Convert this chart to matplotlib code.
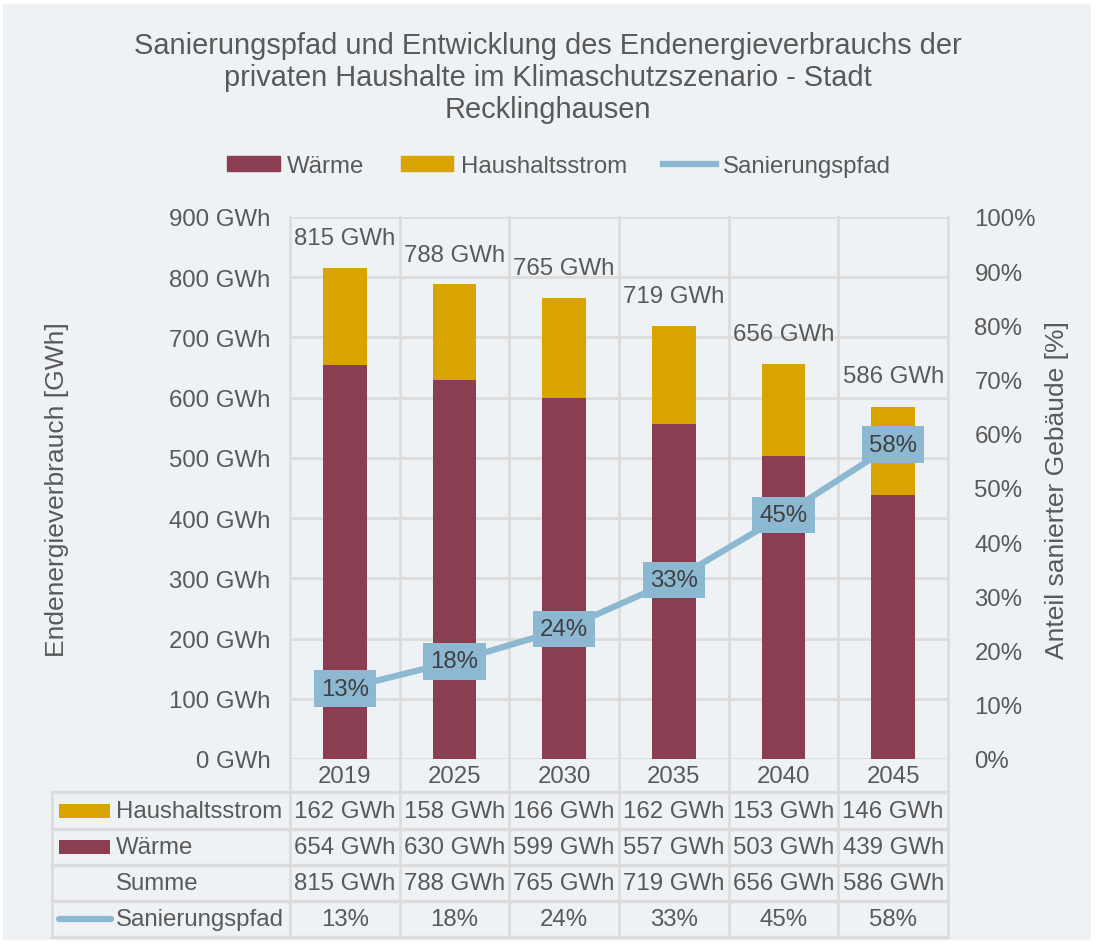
import matplotlib
matplotlib.use("Agg")
import matplotlib.pyplot as plt
from matplotlib.patches import Rectangle, Patch
from matplotlib.lines import Line2D

years = ["2019", "2025", "2030", "2035", "2040", "2045"]
waerme = [654, 630, 599, 557, 503, 439]
strom = [162, 158, 166, 162, 153, 146]
summe = [815, 788, 765, 719, 656, 586]
sanierung = [13, 18, 24, 33, 45, 58]

C_W = "#8B3D52"
C_S = "#D9A300"
C_L = "#8DB8D2"
BG = "#EFF2F5"
GRID = "#DCDCDC"
TXT = "#595959"
FONT = "Liberation Sans"
FS = 17.3

plt.rcParams["font.family"] = [FONT, "DejaVu Sans"]

W, H = 1096, 945
fig = plt.figure(figsize=(W / 100, H / 100), dpi=100, facecolor="white")

# background + overlay axes in pixel coords
ov = fig.add_axes([0, 0, 1, 1], zorder=0)
ov.set_xlim(0, W)
ov.set_ylim(H, 0)
ov.axis("off")
ov.add_patch(Rectangle((3, 5), 1088, 936, facecolor=BG, edgecolor="none"))

L, R, T, B = 290, 948, 218, 760
ax = fig.add_axes([L / W, 1 - B / H, (R - L) / W, (B - T) / H], zorder=2)
ax.set_facecolor("none")
x = list(range(len(years)))
ax.bar(x, waerme, width=0.4, color=C_W, zorder=3)
ax.bar(x, strom, width=0.4, bottom=waerme, color=C_S, zorder=3)
ax.set_xlim(-0.5, len(years) - 0.5)
ax.set_ylim(0, 900)
ax.set_yticks(range(0, 901, 100))
ax.set_yticklabels([f"{v} GWh" for v in range(0, 901, 100)])
ax.tick_params(axis="y", length=0, pad=14, labelsize=FS, labelcolor=TXT)
ax.set_xticks([])
for v in range(0, 901, 100):
    ax.axhline(v, color=GRID, lw=2, zorder=1)
for s in ax.spines.values():
    s.set_visible(False)
for i, tot in enumerate(summe):
    ax.annotate(f"{tot} GWh", (i, tot), xytext=(0, 21.5), textcoords="offset points",
                ha="center", va="center", fontsize=FS, color=TXT)

ax2 = ax.twinx()
ax2.set_ylim(0, 100)
ax2.set_yticks(range(0, 101, 10))
ax2.set_yticklabels([f"{v}%" for v in range(0, 101, 10)])
ax2.tick_params(axis="y", length=0, pad=19, labelsize=FS, labelcolor=TXT)
for lab in ax2.get_yticklabels():
    lab.set_ha("left")
for s in ax2.spines.values():
    s.set_visible(False)
ax2.plot(x, sanierung, color=C_L, lw=4.5, zorder=4, solid_capstyle="butt")
for i, p in enumerate(sanierung):
    ax2.text(i, p, f"{p}%", ha="center", va="center", fontsize=FS, color="#404040",
             bbox=dict(boxstyle="square,pad=0.3", facecolor=C_L, edgecolor="none"), zorder=5)

# vertical category boundaries + table
col_w = (R - L) / len(years)
row_y = [793, 830, 866, 902, 938]
TL = 52
for k in range(len(years) + 1):
    xx = L + k * col_w
    ov.plot([xx, xx], [T, row_y[-1]], color=GRID, lw=2, zorder=1)
ov.plot([TL, TL], [row_y[0], row_y[-1]], color=GRID, lw=2, zorder=1)
for yy in row_y:
    ov.plot([TL, R], [yy, yy], color=GRID, lw=2.5, zorder=1)

for k, yr in enumerate(years):
    ov.text(L + (k + 0.5) * col_w, 777, yr, ha="center", va="center", fontsize=FS, color=TXT)

rows = [
    ("Haushaltsstrom", [f"{v} GWh" for v in strom], "patch", C_S),
    ("Wärme", [f"{v} GWh" for v in waerme], "patch", C_W),
    ("Summe", [f"{v} GWh" for v in summe], None, None),
    ("Sanierungspfad", [f"{v}%" for v in sanierung], "line", C_L),
]
for r, (name, vals, kind, col) in enumerate(rows):
    yc = (row_y[r] + row_y[r + 1]) / 2
    if kind == "patch":
        ov.add_patch(Rectangle((59, yc - 7), 51, 14, facecolor=col, edgecolor="none", zorder=3))
    elif kind == "line":
        ov.plot([59, 111], [yc, yc], color=col, lw=4.5, zorder=3, solid_capstyle="round")
    ov.text(116, yc, name, ha="left", va="center", fontsize=FS, color=TXT)
    for k, v in enumerate(vals):
        ov.text(L + (k + 0.5) * col_w, yc, v, ha="center", va="center", fontsize=FS, color=TXT)

# title
fig.text(0.5, 1 - 78 / H,
         "Sanierungspfad und Entwicklung des Endenergieverbrauchs der\n"
         "privaten Haushalte im Klimaschutzszenario - Stadt\nRecklinghausen",
         ha="center", va="center", fontsize=20.9, color=TXT, linespacing=1.2)

# legend
handles = [Patch(color=C_W, label="Wärme"), Patch(color=C_S, label="Haushaltsstrom"),
           Line2D([], [], color=C_L, lw=4.5, label="Sanierungspfad")]
fig.legend(handles=handles, loc="center", bbox_to_anchor=(559 / W, 1 - 167 / H), ncol=3,
           frameon=False, fontsize=FS, labelcolor=TXT, handlelength=2.2, handleheight=0.6,
           handletextpad=0.3, columnspacing=1.5)

fig.text(57 / W, 1 - 490 / H, "Endenergieverbrauch [GWh]", rotation=90, ha="center", va="center",
         fontsize=19, color=TXT)
fig.text(1057 / W, 1 - 490 / H, "Anteil sanierter Gebäude [%]", rotation=90, ha="center",
         va="center", fontsize=19, color=TXT)

fig.savefig("out.png", dpi=100, facecolor="white")
